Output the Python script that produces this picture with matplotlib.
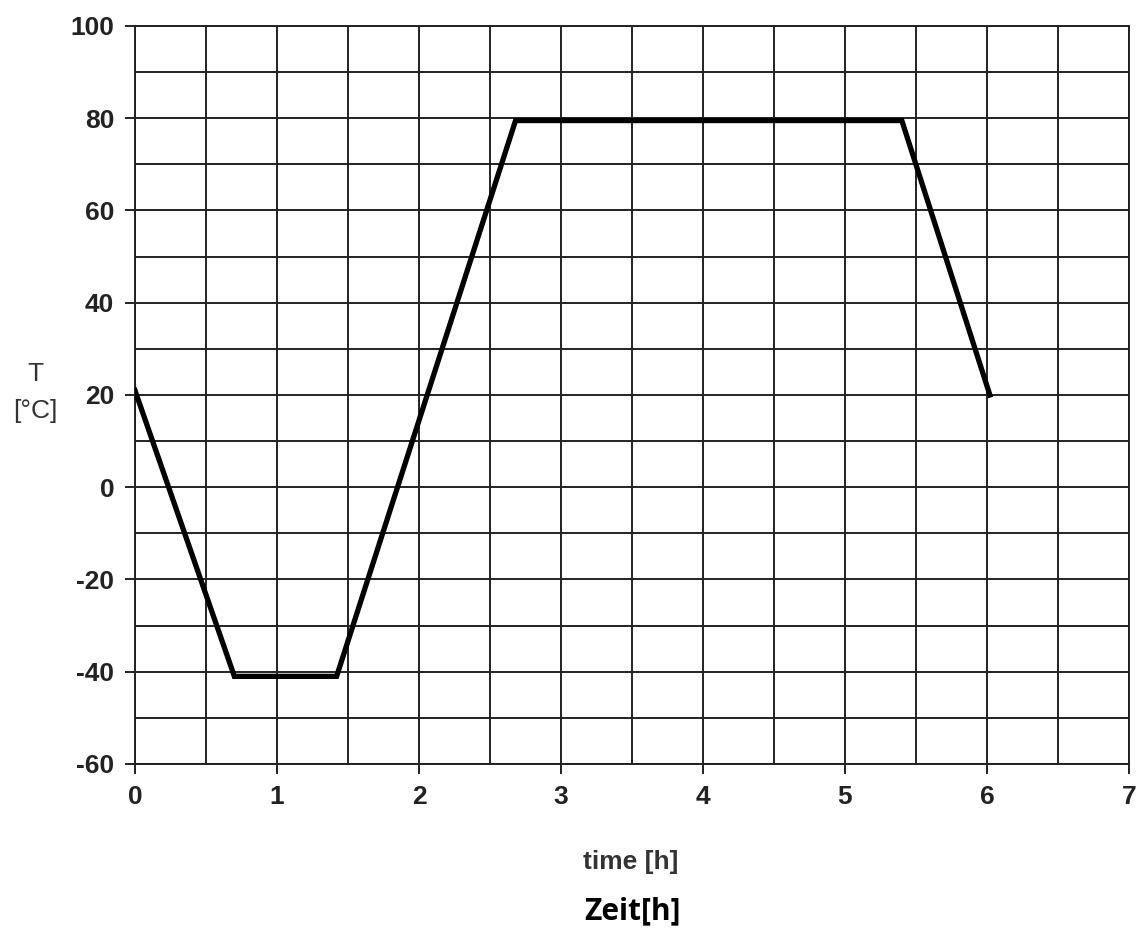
import matplotlib
matplotlib.use('Agg')
import matplotlib.pyplot as plt
from matplotlib.ticker import MultipleLocator

# temperature profile
time_h = [0.0, 0.70, 1.42, 2.68, 5.40, 6.02]
temp_c = [21, -41, -41, 79.5, 79.5, 20]

x_ticks = [0, 1, 2, 3, 4, 5, 6, 7]
y_ticks = [-60, -40, -20, 0, 20, 40, 60, 80, 100]

plt.rcParams['font.family'] = ['Liberation Sans Narrow', 'Liberation Sans',
                               'DejaVu Sans']
plt.rcParams['axes.unicode_minus'] = False

fig = plt.figure(figsize=(11.37, 9.35), dpi=100)
ax = fig.add_axes([0.1187, 0.1829, 0.8743, 0.7893])

ax.plot(time_h, temp_c, color='black', lw=3.8, solid_joinstyle='miter',
        zorder=3)

ax.set_xlim(0, 7)
ax.set_ylim(-60, 100)
ax.set_xticks(x_ticks)
ax.set_yticks(y_ticks)
ax.xaxis.set_minor_locator(MultipleLocator(0.5))
ax.yaxis.set_minor_locator(MultipleLocator(10))
ax.grid(True, which='both', color='#222222', lw=1.4)
ax.set_axisbelow(True)

ax.tick_params(which='major', direction='out', length=7, width=1.4,
               labelsize=19, pad=8, color='#222222', labelcolor='#222222')
ax.tick_params(which='minor', length=0)
for lab in ax.get_xticklabels() + ax.get_yticklabels():
    lab.set_fontweight('bold')
for sp in ax.spines.values():
    sp.set_color('#222222')
    sp.set_linewidth(1.4)

fig.text(0.031, 0.600, 'T', ha='center', va='center', fontsize=19,
         color='#333333')
fig.text(0.031, 0.560, '[°C]', ha='center', va='center', fontsize=19,
         color='#333333')
fig.text(0.555, 0.078, 'time [h]', ha='center', va='center', fontsize=19,
         color='#333333', fontweight='bold')
fig.text(0.556, 0.025, 'Zeit[h]', ha='center', va='center', fontsize=21.5,
         color='black', fontweight='bold',
         family=['Open Sans', 'DejaVu Sans'])

fig.savefig('out.png', dpi=100)
